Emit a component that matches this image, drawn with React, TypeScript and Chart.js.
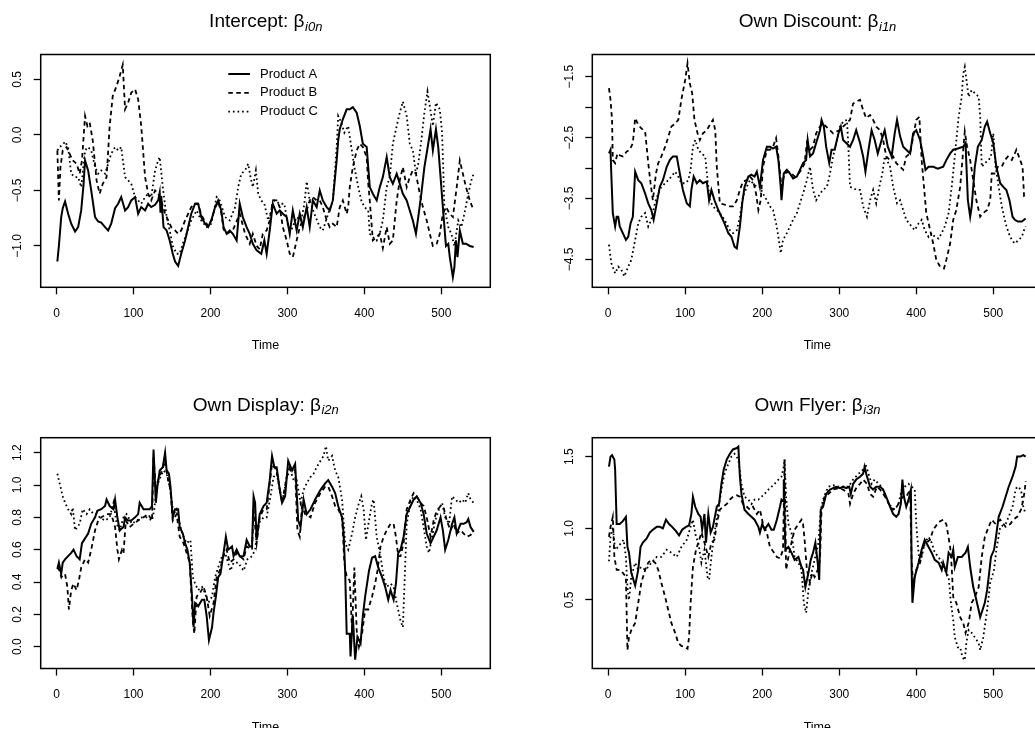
import React, { useEffect, useRef } from 'react';
import { Chart, registerables } from 'chart.js';

Chart.register(...registerables);

const FONT = '"Liberation Sans", Arial, Helvetica, sans-serif';

// ---- shared axis / legend values ----
const timeTicks = [0, 100, 200, 300, 400, 500];
const timeRange = [-20.64, 563.64];
const productNames = ['Product A', 'Product B', 'Product C'];

// ---- Intercept: beta_i0n ----
const interceptA: [number, number][] = [[1,-1.14],[3,-1.0],[6,-0.74],[8,-0.66],[11,-0.60],[15,-0.71],[19,-0.80],[24,-0.87],[28,-0.83],[32,-0.68],[35,-0.45],[37,-0.23],[41,-0.32],[45,-0.50],[50,-0.74],[54,-0.78],[58,-0.79],[63,-0.83],[67,-0.86],[71,-0.80],[76,-0.66],[80,-0.62],[84,-0.56],[89,-0.68],[93,-0.65],[97,-0.59],[102,-0.56],[106,-0.71],[110,-0.65],[115,-0.68],[119,-0.62],[123,-0.65],[128,-0.63],[132,-0.59],[134,-0.52],[135,-0.70],[136,-0.55],[139,-0.83],[143,-0.86],[147,-0.95],[151,-1.07],[154,-1.14],[158,-1.18],[162,-1.07],[167,-0.95],[171,-0.83],[175,-0.71],[180,-0.62],[184,-0.62],[188,-0.74],[193,-0.80],[197,-0.83],[201,-0.77],[206,-0.65],[210,-0.59],[214,-0.68],[217,-0.83],[221,-0.89],[225,-0.86],[229,-0.89],[234,-0.95],[238,-0.62],[242,-0.74],[247,-0.83],[251,-0.89],[255,-0.98],[260,-1.04],[266,-1.07],[270,-0.95],[273,-1.07],[277,-0.86],[281,-0.62],[286,-0.71],[290,-0.68],[294,-0.71],[299,-0.74],[303,-0.89],[307,-0.68],[312,-0.86],[316,-0.71],[320,-0.83],[325,-0.65],[329,-0.83],[333,-0.59],[338,-0.65],[342,-0.50],[346,-0.59],[351,-0.65],[355,-0.68],[359,-0.59],[364,-0.23],[366,-0.05],[368,0.05],[372,0.14],[377,0.23],[381,0.23],[385,0.25],[390,0.20],[394,0.08],[398,-0.08],[403,-0.11],[407,-0.47],[411,-0.53],[416,-0.59],[420,-0.47],[424,-0.38],[429,-0.20],[433,-0.38],[437,-0.44],[442,-0.35],[446,-0.44],[450,-0.53],[455,-0.59],[459,-0.68],[463,-0.77],[467,-0.89],[470,-0.74],[474,-0.53],[478,-0.29],[483,-0.08],[486,0.05],[489,-0.14],[493,0.05],[496,-0.11],[500,-0.47],[503,-0.74],[506,-1.0],[509,-0.98],[511,-1.10],[515,-1.28],[517,-1.19],[519,-0.95],[521,-1.10],[524,-0.86],[528,-0.98],[532,-0.98],[537,-1.0],[542,-1.01]];
const interceptB: [number, number][] = [[1,-0.14],[3,-0.59],[5,-0.29],[8,-0.14],[13,-0.11],[17,-0.17],[21,-0.23],[26,-0.26],[30,-0.35],[33,-0.23],[37,0.17],[40,0.08],[43,0.11],[47,-0.05],[52,-0.41],[56,-0.53],[60,-0.44],[65,-0.38],[69,0.08],[73,0.35],[78,0.44],[82,0.53],[86,0.63],[89,0.23],[93,0.29],[97,0.38],[102,0.41],[106,0.32],[110,0.08],[115,-0.38],[119,-0.53],[123,-0.59],[128,-0.50],[132,-0.53],[136,-0.59],[141,-0.71],[145,-0.77],[149,-0.83],[154,-0.86],[158,-0.89],[162,-0.86],[167,-0.77],[171,-0.71],[175,-0.65],[180,-0.62],[184,-0.62],[188,-0.72],[193,-0.78],[197,-0.82],[201,-0.77],[206,-0.66],[210,-0.60],[214,-0.70],[217,-0.85],[221,-0.89],[229,-0.86],[238,-0.71],[245,-0.89],[251,-0.98],[255,-0.89],[260,-1.0],[264,-1.03],[268,-0.89],[273,-0.86],[277,-0.77],[281,-0.59],[286,-0.59],[290,-0.65],[294,-0.83],[299,-0.95],[303,-1.07],[307,-1.10],[312,-0.95],[316,-0.83],[320,-0.77],[325,-0.68],[329,-0.59],[333,-0.56],[338,-0.59],[342,-0.59],[346,-0.65],[351,-0.77],[355,-0.83],[359,-0.80],[364,-0.83],[368,-0.65],[372,-0.59],[377,-0.71],[379,-0.65],[381,-0.47],[385,-0.29],[390,-0.14],[394,-0.08],[398,-0.11],[403,-0.20],[405,-0.44],[407,-0.59],[411,-0.95],[416,-0.92],[420,-0.89],[424,-1.02],[429,-0.83],[433,-0.98],[437,-0.95],[442,-0.59],[446,-0.41],[450,-0.29],[455,-0.47],[459,-0.38],[463,-0.32],[467,-0.35],[472,-0.53],[476,-0.65],[481,-0.77],[485,-0.89],[489,-1.0],[494,-0.98],[498,-0.89],[502,-0.71],[506,-0.65],[511,-0.71],[515,-0.74],[520,-0.47],[524,-0.23],[528,-0.35],[532,-0.47],[537,-0.59],[542,-0.68]];
const interceptC: [number, number][] = [[1,-0.14],[4,-0.11],[9,-0.08],[11,-0.06],[15,-0.11],[19,-0.35],[24,-0.38],[28,-0.38],[32,-0.47],[37,-0.14],[41,-0.11],[45,-0.14],[50,-0.29],[54,-0.35],[58,-0.32],[63,-0.35],[67,-0.26],[71,-0.17],[76,-0.11],[80,-0.14],[84,-0.11],[89,-0.38],[93,-0.41],[97,-0.44],[102,-0.56],[106,-0.59],[110,-0.62],[115,-0.56],[119,-0.53],[123,-0.56],[128,-0.32],[132,-0.23],[134,-0.20],[138,-0.47],[143,-0.74],[147,-0.86],[151,-1.0],[156,-1.07],[160,-1.07],[164,-0.98],[169,-0.89],[175,-0.77],[182,-0.68],[188,-0.77],[195,-0.83],[201,-0.80],[208,-0.56],[212,-0.59],[219,-0.74],[225,-0.77],[232,-0.65],[236,-0.47],[240,-0.35],[245,-0.32],[249,-0.26],[252,-0.38],[255,-0.47],[259,-0.32],[262,-0.53],[266,-0.59],[270,-0.62],[275,-0.77],[279,-0.68],[283,-0.59],[290,-0.62],[296,-0.62],[301,-0.83],[305,-0.86],[312,-0.74],[318,-0.77],[322,-0.62],[325,-0.42],[329,-0.59],[335,-0.71],[342,-0.83],[346,-0.86],[353,-0.71],[359,-0.59],[364,-0.11],[366,0.17],[370,0.11],[374,0.02],[379,0.08],[383,-0.11],[387,-0.29],[392,-0.47],[396,-0.59],[400,-0.65],[405,-0.68],[407,-0.89],[411,-0.92],[416,-0.95],[420,-0.89],[424,-0.77],[429,-0.47],[433,-0.38],[437,-0.08],[442,0.08],[446,0.20],[450,0.30],[455,0.17],[459,-0.08],[463,-0.14],[467,-0.35],[470,-0.26],[474,-0.05],[478,0.20],[482,0.39],[485,0.26],[489,0.08],[493,0.29],[498,0.23],[501,0.02],[504,-0.65],[509,-0.83],[513,-0.89],[517,-1.0],[522,-0.77],[526,-0.83],[530,-0.71],[535,-0.53],[539,-0.41],[542,-0.35]];

// ---- Own Discount: beta_i1n ----
const discountA: [number, number][] = [[1,-2.76],[3,-2.70],[4,-3.09],[6,-3.74],[9,-3.96],[11,-3.80],[13,-3.80],[15,-3.96],[19,-4.07],[23,-4.18],[26,-4.13],[29,-3.91],[32,-3.80],[35,-3.06],[39,-3.20],[43,-3.25],[48,-3.42],[52,-3.58],[56,-3.69],[59,-3.85],[63,-3.58],[67,-3.31],[71,-3.20],[76,-2.98],[80,-2.87],[84,-2.81],[89,-2.81],[93,-3.09],[97,-3.36],[102,-3.58],[106,-3.63],[108,-3.36],[111,-3.14],[115,-3.25],[119,-3.20],[123,-3.25],[128,-3.22],[131,-3.53],[134,-3.36],[138,-3.53],[143,-3.69],[147,-3.80],[151,-3.91],[156,-4.07],[160,-4.13],[164,-4.29],[167,-4.32],[171,-3.96],[174,-3.58],[177,-3.31],[182,-3.14],[186,-3.11],[190,-3.14],[193,-3.06],[197,-3.31],[201,-2.87],[206,-2.65],[210,-2.65],[214,-2.68],[218,-2.65],[221,-2.87],[224,-3.31],[225,-3.53],[228,-3.09],[232,-3.03],[236,-3.09],[240,-3.17],[245,-3.14],[249,-3.03],[253,-2.92],[257,-2.87],[259,-2.54],[262,-2.81],[266,-2.76],[270,-2.59],[275,-2.38],[277,-2.21],[280,-2.32],[283,-2.65],[287,-2.92],[290,-2.70],[294,-2.70],[299,-2.43],[302,-2.32],[305,-2.54],[309,-2.59],[314,-2.65],[318,-2.54],[322,-2.38],[327,-2.59],[331,-2.81],[334,-3.06],[338,-2.70],[342,-2.38],[346,-2.54],[350,-2.76],[355,-2.54],[359,-2.38],[363,-2.65],[368,-2.81],[372,-2.43],[375,-2.21],[379,-2.48],[383,-2.65],[387,-2.70],[392,-2.76],[396,-2.43],[400,-2.38],[405,-2.54],[409,-2.81],[412,-3.03],[416,-2.98],[422,-2.98],[428,-3.01],[435,-2.98],[439,-2.87],[444,-2.76],[448,-2.70],[454,-2.68],[461,-2.65],[464,-2.59],[465,-2.92],[467,-3.53],[470,-3.80],[472,-3.63],[476,-2.98],[480,-2.65],[485,-2.54],[489,-2.32],[492,-2.24],[496,-2.43],[500,-2.59],[504,-2.98],[509,-3.25],[513,-3.31],[517,-3.36],[521,-3.53],[525,-3.80],[528,-3.85],[532,-3.88],[537,-3.88],[540,-3.85],[542,-3.83]];
const discountB: [number, number][] = [[1,-1.69],[3,-1.88],[5,-2.21],[6,-2.87],[9,-2.92],[12,-2.76],[15,-2.79],[19,-2.81],[24,-2.73],[28,-2.70],[32,-2.59],[35,-2.18],[39,-2.29],[43,-2.35],[48,-2.40],[52,-2.92],[55,-3.25],[58,-3.53],[62,-3.09],[65,-2.92],[69,-2.81],[74,-2.65],[78,-2.49],[82,-2.32],[87,-2.27],[91,-2.21],[95,-1.88],[100,-1.55],[103,-1.28],[106,-1.61],[109,-1.77],[112,-2.21],[116,-2.43],[119,-2.54],[123,-2.43],[128,-2.38],[132,-2.29],[136,-2.21],[139,-2.38],[141,-2.98],[145,-3.58],[151,-3.60],[158,-3.63],[162,-3.63],[167,-3.53],[171,-3.36],[175,-3.22],[180,-3.20],[184,-3.14],[188,-3.20],[192,-3.42],[195,-3.69],[198,-3.53],[201,-2.98],[206,-2.70],[210,-2.70],[214,-2.65],[218,-2.51],[221,-2.81],[225,-3.31],[229,-3.09],[234,-3.06],[238,-3.09],[242,-3.14],[247,-3.09],[251,-3.03],[255,-2.92],[258,-2.59],[262,-2.70],[266,-2.65],[270,-2.43],[275,-2.32],[279,-2.27],[283,-2.32],[288,-2.38],[292,-2.43],[296,-2.40],[301,-2.38],[305,-2.32],[309,-2.27],[314,-2.21],[318,-1.94],[322,-1.91],[327,-1.88],[331,-2.05],[335,-2.18],[340,-2.13],[344,-2.21],[348,-2.32],[353,-2.38],[357,-2.54],[361,-2.81],[366,-2.87],[370,-2.81],[374,-2.92],[379,-2.98],[383,-3.03],[387,-2.81],[392,-2.76],[396,-2.49],[400,-2.21],[404,-2.16],[407,-2.87],[410,-3.31],[413,-3.74],[418,-4.02],[422,-4.24],[426,-4.51],[431,-4.62],[436,-4.65],[439,-4.51],[444,-4.24],[448,-3.85],[452,-3.69],[457,-3.31],[461,-2.70],[463,-2.40],[466,-2.65],[470,-2.87],[474,-3.20],[478,-3.53],[483,-3.80],[487,-3.74],[492,-3.69],[496,-3.53],[498,-3.09],[502,-3.09],[506,-2.98],[511,-2.98],[515,-2.87],[519,-2.81],[524,-2.87],[528,-2.76],[530,-2.70],[534,-2.84],[538,-2.98],[540,-3.47],[542,-3.50]];
const discountC: [number, number][] = [[1,-4.26],[4,-4.56],[9,-4.73],[13,-4.62],[17,-4.67],[21,-4.78],[26,-4.62],[30,-4.51],[35,-4.18],[39,-3.91],[43,-3.80],[48,-3.74],[52,-3.96],[56,-3.85],[61,-3.56],[65,-3.42],[69,-3.31],[74,-3.25],[78,-3.20],[82,-3.14],[87,-3.06],[91,-3.14],[95,-3.25],[100,-3.25],[104,-3.20],[107,-3.03],[110,-2.65],[113,-2.54],[117,-2.70],[121,-2.76],[126,-2.81],[129,-3.20],[132,-3.53],[136,-3.63],[141,-3.69],[145,-3.74],[151,-3.85],[158,-4.02],[162,-4.07],[167,-4.02],[171,-3.80],[175,-3.47],[180,-3.31],[184,-3.20],[188,-3.25],[193,-3.31],[197,-3.31],[201,-3.42],[206,-3.53],[210,-3.63],[214,-3.69],[218,-3.91],[221,-4.13],[224,-4.40],[227,-4.18],[232,-4.07],[236,-3.96],[240,-3.85],[245,-3.74],[249,-3.58],[253,-3.42],[258,-3.20],[262,-2.98],[266,-3.36],[270,-3.53],[275,-3.42],[279,-3.36],[284,-3.31],[288,-3.09],[292,-2.81],[297,-2.54],[301,-2.32],[305,-2.24],[310,-2.21],[312,-2.70],[314,-3.31],[318,-3.33],[323,-3.36],[327,-3.36],[331,-3.63],[336,-3.80],[340,-3.53],[344,-3.36],[348,-3.58],[352,-3.31],[356,-3.09],[359,-2.81],[362,-2.87],[366,-2.98],[370,-3.31],[375,-3.58],[379,-3.53],[383,-3.69],[387,-3.85],[394,-3.96],[398,-4.02],[403,-3.91],[407,-3.85],[411,-4.02],[416,-4.13],[420,-4.07],[424,-4.13],[429,-4.16],[433,-4.07],[437,-3.96],[442,-3.74],[446,-3.31],[450,-2.81],[455,-2.16],[459,-1.83],[461,-1.45],[463,-1.34],[468,-1.83],[472,-1.72],[476,-1.77],[481,-1.83],[483,-2.16],[485,-2.98],[489,-2.92],[494,-2.87],[497,-2.81],[500,-2.43],[503,-2.98],[507,-3.31],[511,-3.63],[516,-3.91],[520,-4.07],[524,-4.18],[528,-4.24],[533,-4.18],[537,-4.13],[540,-4.02],[542,-3.96]];

// ---- Own Display: beta_i2n ----
const displayA: [number, number][] = [[1,0.48],[3,0.52],[6,0.45],[8,0.52],[11,0.54],[15,0.56],[19,0.58],[22,0.60],[26,0.56],[30,0.54],[33,0.64],[37,0.67],[41,0.70],[45,0.76],[50,0.80],[53,0.84],[58,0.85],[63,0.87],[65,0.91],[69,0.87],[74,0.85],[76,0.91],[79,0.80],[82,0.72],[87,0.74],[89,0.80],[93,0.78],[97,0.78],[102,0.80],[106,0.82],[108,0.89],[113,0.85],[117,0.85],[121,0.85],[124,0.87],[126,1.22],[129,0.89],[131,0.99],[134,1.09],[138,1.11],[141,1.20],[143,1.09],[146,1.07],[148,0.99],[151,0.80],[154,0.85],[158,0.85],[160,0.74],[164,0.70],[167,0.64],[170,0.60],[173,0.52],[176,0.31],[178,0.12],[180,0.27],[184,0.25],[189,0.29],[192,0.29],[195,0.19],[198,0.04],[202,0.12],[204,0.21],[207,0.31],[210,0.43],[213,0.45],[217,0.58],[220,0.68],[223,0.60],[228,0.62],[230,0.56],[234,0.60],[238,0.56],[243,0.56],[247,0.66],[251,0.62],[254,0.62],[256,0.93],[258,0.89],[260,0.66],[264,0.82],[269,0.87],[273,0.89],[277,1.03],[280,1.18],[283,1.11],[286,1.11],[290,0.97],[293,0.89],[297,0.93],[301,1.15],[306,1.09],[310,1.13],[314,0.78],[317,0.74],[321,0.91],[325,0.82],[330,0.85],[336,0.91],[343,0.97],[349,1.01],[353,1.03],[358,0.99],[362,0.95],[366,0.87],[371,0.80],[373,0.70],[375,0.47],[377,0.08],[381,0.08],[382,-0.06],[385,0.19],[388,-0.08],[391,0.06],[395,0.02],[398,0.19],[401,0.31],[406,0.47],[410,0.55],[414,0.56],[418,0.49],[423,0.43],[427,0.37],[431,0.29],[434,0.35],[438,0.29],[441,0.39],[444,0.58],[447,0.60],[451,0.68],[455,0.82],[460,0.87],[464,0.91],[468,0.93],[473,0.89],[477,0.82],[481,0.70],[486,0.64],[490,0.68],[494,0.72],[499,0.80],[502,0.72],[505,0.60],[509,0.66],[514,0.76],[517,0.80],[520,0.70],[525,0.76],[529,0.76],[533,0.77],[535,0.79],[538,0.74],[542,0.71]];
const displayB: [number, number][] = [[1,0.49],[4,0.47],[6,0.43],[11,0.45],[14,0.37],[16,0.23],[19,0.35],[22,0.39],[26,0.35],[29,0.41],[32,0.49],[37,0.54],[41,0.52],[45,0.60],[50,0.72],[54,0.78],[58,0.80],[65,0.82],[71,0.82],[76,0.74],[79,0.60],[81,0.54],[85,0.60],[87,0.58],[90,0.78],[95,0.74],[100,0.76],[106,0.78],[113,0.80],[119,0.82],[124,0.78],[126,1.18],[129,0.97],[132,1.03],[137,1.09],[141,1.15],[144,1.05],[148,0.97],[151,0.78],[156,0.82],[160,0.68],[165,0.64],[169,0.58],[173,0.52],[177,0.16],[179,0.08],[182,0.31],[186,0.33],[191,0.37],[195,0.31],[199,0.19],[204,0.27],[208,0.43],[212,0.47],[217,0.56],[221,0.60],[225,0.52],[230,0.54],[234,0.58],[238,0.56],[243,0.54],[247,0.62],[254,0.60],[256,0.85],[260,0.64],[264,0.80],[269,0.85],[273,0.85],[280,1.13],[286,1.09],[293,0.89],[299,1.05],[303,1.11],[310,1.09],[313,0.72],[316,0.68],[319,0.87],[323,0.82],[330,0.80],[336,0.89],[343,0.95],[349,0.99],[353,0.99],[358,0.93],[362,0.87],[366,0.85],[371,0.80],[374,0.52],[377,0.43],[381,0.41],[384,0.10],[387,0.49],[390,0.10],[393,0.0],[397,0.08],[401,0.23],[405,0.23],[410,0.31],[414,0.39],[417,0.47],[421,0.62],[425,0.68],[429,0.72],[434,0.76],[438,0.76],[441,0.68],[444,0.56],[447,0.56],[451,0.64],[455,0.85],[460,0.91],[464,0.95],[468,0.93],[473,0.89],[477,0.87],[481,0.80],[486,0.68],[490,0.78],[494,0.84],[499,0.87],[503,0.86],[507,0.78],[512,0.72],[516,0.76],[520,0.70],[525,0.72],[529,0.70],[533,0.68],[538,0.69],[542,0.72]];
const displayC: [number, number][] = [[1,1.07],[4,1.01],[8,0.93],[11,0.89],[15,0.85],[19,0.82],[21,0.86],[24,0.72],[27,0.74],[30,0.76],[34,0.85],[39,0.82],[43,0.85],[48,0.82],[52,0.82],[56,0.80],[63,0.78],[69,0.80],[74,0.89],[78,0.76],[82,0.72],[87,0.80],[91,0.82],[98,0.76],[104,0.78],[111,0.80],[117,0.80],[124,0.78],[127,0.85],[130,0.99],[135,1.05],[139,1.09],[143,1.07],[147,0.99],[152,0.82],[156,0.85],[161,0.74],[165,0.68],[169,0.64],[174,0.66],[177,0.43],[180,0.39],[184,0.35],[189,0.37],[193,0.33],[197,0.27],[202,0.31],[206,0.43],[210,0.49],[215,0.56],[219,0.58],[226,0.47],[230,0.52],[236,0.52],[243,0.47],[248,0.54],[254,0.56],[258,0.60],[262,0.76],[269,0.80],[273,0.80],[278,0.93],[282,1.05],[286,1.07],[291,0.95],[295,0.93],[299,1.05],[304,1.09],[308,1.03],[312,1.03],[317,0.89],[321,0.97],[325,1.01],[330,1.05],[334,1.07],[338,1.11],[343,1.15],[347,1.18],[350,1.24],[353,1.15],[358,1.18],[362,1.09],[366,1.05],[371,0.91],[375,0.64],[379,0.60],[384,0.70],[388,0.80],[393,0.89],[396,0.93],[399,0.85],[402,0.66],[406,0.78],[410,0.89],[412,0.91],[416,0.68],[421,0.56],[425,0.43],[429,0.37],[434,0.39],[438,0.37],[442,0.27],[447,0.16],[450,0.12],[452,0.37],[455,0.76],[460,0.89],[464,0.93],[468,0.91],[473,0.85],[477,0.74],[481,0.62],[484,0.58],[488,0.68],[492,0.78],[497,0.85],[501,0.89],[505,0.80],[510,0.76],[514,0.93],[518,0.91],[523,0.89],[527,0.91],[531,0.89],[535,0.95],[538,0.91],[542,0.89]];

// ---- Own Flyer: beta_i3n ----
const flyerA: [number, number][] = [[1,1.43],[3,1.50],[5,1.51],[8,1.48],[9,1.41],[11,1.03],[15,1.03],[19,1.05],[23,1.08],[25,0.87],[27,0.83],[30,0.69],[35,0.60],[39,0.71],[42,0.87],[45,0.90],[50,0.93],[54,0.97],[58,0.99],[63,1.01],[67,1.01],[71,1.00],[75,1.06],[79,1.03],[83,1.01],[88,0.98],[92,0.95],[96,0.99],[101,1.01],[105,1.02],[108,1.10],[110,1.22],[113,1.15],[117,1.10],[120,1.08],[122,0.99],[125,1.10],[127,0.90],[130,1.10],[133,0.97],[136,1.01],[141,1.15],[144,1.17],[147,1.31],[150,1.41],[154,1.48],[158,1.52],[162,1.55],[167,1.56],[169,1.57],[171,1.36],[173,1.24],[177,1.13],[182,1.10],[186,1.08],[190,1.06],[195,1.01],[197,0.97],[200,1.03],[203,0.99],[208,1.03],[212,0.99],[215,0.99],[219,1.06],[223,1.15],[225,1.20],[227,1.19],[228,1.34],[230,0.85],[234,0.87],[238,0.83],[242,0.78],[247,0.80],[251,0.73],[253,0.71],[256,0.59],[260,0.69],[263,0.78],[266,0.83],[269,0.90],[272,0.76],[274,0.64],[276,1.13],[279,1.15],[283,1.24],[288,1.27],[292,1.28],[296,1.29],[301,1.28],[305,1.29],[309,1.28],[313,1.29],[315,1.24],[318,1.31],[322,1.34],[327,1.36],[331,1.38],[333,1.43],[335,1.38],[340,1.29],[344,1.27],[348,1.29],[353,1.29],[357,1.27],[361,1.22],[366,1.15],[370,1.10],[374,1.08],[377,1.10],[380,1.17],[382,1.34],[384,1.22],[387,1.15],[390,1.20],[393,1.27],[394,0.71],[395,0.48],[398,0.66],[403,0.76],[407,0.85],[411,0.92],[416,0.87],[420,0.83],[424,0.78],[429,0.76],[433,0.71],[435,0.76],[439,0.69],[442,0.83],[446,0.80],[448,0.85],[450,0.73],[454,0.80],[459,0.80],[464,0.83],[467,0.87],[470,0.73],[474,0.59],[478,0.50],[481,0.43],[483,0.38],[486,0.43],[489,0.48],[492,0.57],[494,0.66],[497,0.80],[501,0.85],[503,0.92],[507,1.08],[512,1.15],[516,1.22],[520,1.29],[525,1.36],[529,1.43],[531,1.50],[535,1.50],[539,1.51],[542,1.50]];
const flyerB: [number, number][] = [[1,0.94],[3,1.01],[6,1.08],[8,0.80],[11,0.71],[15,0.71],[19,0.69],[23,0.66],[25,0.15],[27,0.24],[30,0.29],[35,0.34],[39,0.48],[43,0.62],[48,0.71],[52,0.76],[56,0.78],[61,0.76],[65,0.71],[69,0.62],[74,0.52],[78,0.43],[82,0.34],[87,0.27],[91,0.20],[95,0.18],[100,0.17],[103,0.16],[105,0.24],[107,0.48],[110,0.73],[114,0.85],[117,0.90],[121,0.97],[125,0.90],[130,0.80],[134,0.90],[138,0.92],[141,1.03],[145,1.13],[149,1.15],[154,1.17],[158,1.20],[162,1.22],[167,1.23],[171,1.22],[175,1.17],[180,1.15],[184,1.13],[188,1.15],[193,1.10],[197,1.13],[201,1.03],[206,0.97],[210,0.87],[214,0.84],[219,0.80],[223,0.79],[227,0.85],[229,1.48],[231,0.71],[234,0.80],[238,0.90],[242,0.99],[247,1.03],[251,1.06],[253,1.03],[255,0.92],[258,0.71],[262,0.62],[265,0.69],[268,0.66],[272,0.71],[275,0.78],[277,1.13],[281,1.22],[286,1.24],[292,1.27],[299,1.28],[305,1.27],[312,1.24],[314,1.17],[318,1.24],[323,1.29],[327,1.31],[331,1.34],[336,1.31],[340,1.24],[344,1.22],[349,1.29],[353,1.27],[357,1.24],[362,1.20],[366,1.15],[370,1.13],[375,1.15],[379,1.20],[383,1.22],[387,1.22],[392,1.27],[394,0.76],[396,0.62],[400,0.71],[405,0.76],[409,0.87],[413,0.90],[418,0.92],[422,0.99],[426,1.02],[431,1.05],[435,1.06],[439,1.03],[444,0.87],[446,0.73],[448,0.52],[452,0.48],[457,0.38],[461,0.34],[464,0.27],[468,0.34],[472,0.48],[476,0.52],[481,0.59],[485,0.80],[489,0.94],[494,1.01],[498,1.06],[503,1.03],[509,1.06],[516,1.01],[522,1.03],[526,1.06],[531,1.08],[536,1.13],[539,1.20],[541,1.27],[542,1.33]];
const flyerC: [number, number][] = [[1,0.77],[3,0.94],[6,1.01],[9,0.85],[13,0.87],[17,0.90],[20,0.92],[23,0.80],[25,0.59],[27,0.50],[30,0.66],[35,0.76],[39,0.71],[43,0.73],[48,0.71],[52,0.73],[56,0.76],[63,0.80],[69,0.80],[76,0.85],[82,0.83],[89,0.80],[95,0.87],[102,0.92],[107,1.01],[110,1.06],[114,0.94],[117,0.90],[121,0.76],[125,0.85],[129,0.66],[131,0.64],[134,0.80],[138,0.97],[143,1.13],[147,1.27],[151,1.38],[156,1.45],[160,1.50],[164,1.52],[169,1.48],[173,1.31],[177,1.22],[182,1.20],[186,1.17],[190,1.20],[195,1.20],[199,1.22],[203,1.24],[208,1.27],[212,1.29],[216,1.31],[221,1.34],[225,1.36],[228,1.43],[229,1.48],[231,1.22],[234,1.03],[238,0.97],[242,0.80],[247,0.76],[251,0.71],[254,0.48],[257,0.41],[260,0.57],[264,0.69],[268,0.78],[273,0.90],[276,1.13],[280,1.22],[286,1.29],[292,1.30],[299,1.29],[305,1.29],[312,1.29],[318,1.34],[325,1.38],[331,1.41],[334,1.45],[338,1.38],[342,1.31],[346,1.34],[351,1.31],[355,1.29],[359,1.24],[364,1.17],[368,1.15],[372,1.13],[377,1.17],[381,1.27],[385,1.29],[390,1.31],[394,1.29],[398,1.27],[400,1.03],[404,0.76],[407,0.80],[411,0.90],[416,0.94],[420,0.90],[424,0.83],[429,0.80],[433,0.76],[437,0.71],[442,0.66],[445,0.48],[448,0.36],[450,0.24],[454,0.17],[457,0.17],[460,0.10],[463,0.08],[465,0.20],[468,0.29],[472,0.27],[476,0.24],[481,0.20],[483,0.15],[487,0.24],[492,0.43],[496,0.62],[501,0.71],[504,0.85],[509,1.01],[516,1.03],[520,1.08],[525,1.15],[529,1.27],[531,1.29],[536,1.27],[539,1.15],[542,1.10]];

// ---- y-axis ticks and their printed labels ----
const interceptTicks = [-1, -0.5, 0, 0.5];
const interceptTickLabels = ['\u22121.0', '\u22120.5', '0.0', '0.5'];
const discountTicks = [-4.5, -4, -3.5, -3, -2.5, -2, -1.5];
const discountTickLabels = ['\u22124.5', '', '\u22123.5', '', '\u22122.5', '', '\u22121.5'];
const displayTicks = [0, 0.2, 0.4, 0.6, 0.8, 1.0, 1.2];
const displayTickLabels = ['0.0', '0.2', '0.4', '0.6', '0.8', '1.0', '1.2'];
const flyerTicks = [0.5, 1.0, 1.5];
const flyerTickLabels = ['0.5', '1.0', '1.5'];

// ---- panel layout (page pixels) ----
type Box = { left: number; right: number; top: number; bottom: number };
type Panel = {
  title: string;
  sub: string;
  series: [number, number][][];
  yRange: [number, number];
  yTicks: number[];
  yLabels: string[];
  canvas: { left: number; top: number; width: number; height: number };
  box: Box;
  timeCenter: number;
  legend: boolean;
};

const panels: Panel[] = [
  {
    title: 'Intercept: \u03b2', sub: 'i0n',
    series: [interceptA, interceptB, interceptC],
    yRange: [-1.372, 0.7235], yTicks: interceptTicks, yLabels: interceptTickLabels,
    canvas: { left: 0, top: 0, width: 517, height: 368 },
    box: { left: 40.7, right: 490.3, top: 54.5, bottom: 287.3 },
    timeCenter: 345.3, legend: true,
  },
  {
    title: 'Own Discount: \u03b2', sub: 'i1n',
    series: [discountA, discountB, discountC],
    yRange: [-4.959, -1.136], yTicks: discountTicks, yLabels: discountTickLabels,
    canvas: { left: 520, top: 0, width: 545, height: 368 },
    box: { left: 592.3, right: 1042.3, top: 54.5, bottom: 287.3 },
    timeCenter: 345.3, legend: false,
  },
  {
    title: 'Own Display: \u03b2', sub: 'i2n',
    series: [displayA, displayB, displayC],
    yRange: [-0.135, 1.2926], yTicks: displayTicks, yLabels: displayTickLabels,
    canvas: { left: 0, top: 368, width: 517, height: 368 },
    box: { left: 40.7, right: 490.3, top: 437.7, bottom: 668.5 },
    timeCenter: 727.4, legend: false,
  },
  {
    title: 'Own Flyer: \u03b2', sub: 'i3n',
    series: [flyerA, flyerB, flyerC],
    yRange: [0.022, 1.632], yTicks: flyerTicks, yLabels: flyerTickLabels,
    canvas: { left: 520, top: 368, width: 545, height: 368 },
    box: { left: 592.3, right: 1042.3, top: 437.7, bottom: 668.5 },
    timeCenter: 727.4, legend: false,
  },
];

const lineDashes: number[][] = [[], [4.5, 3.5], [1.7, 2.9]];
const lineWidths = [2, 1.8, 1.8];
const TICK_SIZE = 12;
const TICK_LEN = 7;
const AXIS_TITLE_SIZE = 12.5;

function widestLabel(labels: string[], size: number): number {
  const ctx = document.createElement('canvas').getContext('2d');
  if (!ctx) return 0;
  ctx.font = `${size}px ${FONT}`;
  return Math.max(...labels.map((l) => ctx.measureText(l).width));
}

// plot frame on all four sides
const framePlugin = {
  id: 'frame',
  afterDraw(chart: any) {
    const { ctx, chartArea: a } = chart;
    ctx.save();
    ctx.strokeStyle = '#000';
    ctx.lineWidth = 1.5;
    ctx.strokeRect(a.left, a.top, a.right - a.left, a.bottom - a.top);
    ctx.restore();
  },
};

// main title with italic subscript, centred over the plot region
const panelTitlePlugin = {
  id: 'panelTitle',
  afterDraw(chart: any, _args: any, opts: any) {
    const { ctx, chartArea: a } = chart;
    const cx = (a.left + a.right) / 2;
    const y = a.top - 27.2;
    const main = `19px ${FONT}`;
    const small = `italic 13px ${FONT}`;
    ctx.save();
    ctx.fillStyle = '#000';
    ctx.textAlign = 'left';
    ctx.textBaseline = 'alphabetic';
    ctx.font = main;
    const w1 = ctx.measureText(opts.text).width;
    ctx.font = small;
    const w2 = ctx.measureText(opts.sub).width;
    const x0 = cx - (w1 + w2) / 2;
    ctx.font = main;
    ctx.fillText(opts.text, x0, y);
    ctx.font = small;
    ctx.fillText(opts.sub, x0 + w1 + 0.5, y + 3.7);
    ctx.restore();
  },
};

// borderless legend at the top centre of the plot region
const insetLegendPlugin = {
  id: 'insetLegend',
  afterDraw(chart: any) {
    const { ctx, chartArea: a } = chart;
    const cx = (a.left + a.right) / 2;
    ctx.save();
    ctx.font = `13px ${FONT}`;
    ctx.textBaseline = 'middle';
    ctx.textAlign = 'left';
    ctx.fillStyle = '#000';
    ctx.strokeStyle = '#000';
    chart.data.datasets.forEach((ds: any, i: number) => {
      const y = a.top + 19.5 + i * 18.8;
      ctx.beginPath();
      ctx.setLineDash(ds.borderDash || []);
      ctx.lineWidth = ds.borderWidth;
      ctx.moveTo(cx - 37.2, y);
      ctx.lineTo(cx - 15.5, y);
      ctx.stroke();
      ctx.setLineDash([]);
      ctx.fillText(ds.label, cx - 5.5, y);
    });
    ctx.restore();
  },
};

function PanelChart({ panel }: { panel: Panel }) {
  const ref = useRef<HTMLCanvasElement | null>(null);

  useEffect(() => {
    if (!ref.current) return;
    const { canvas: c, box } = panel;
    const padTop = box.top - c.top;
    const padRight = c.left + c.width - box.right;
    const yAxisWidth = box.left - c.left;
    const xAxisHeight = c.top + c.height - box.bottom;
    const titleLineHeight = AXIS_TITLE_SIZE * 1.2;
    const timePadBottom = c.top + c.height - panel.timeCenter - titleLineHeight / 2;
    const yLabelPad = 23 - TICK_LEN - widestLabel(panel.yLabels, TICK_SIZE) / 2;

    const grid = {
      drawOnChartArea: false,
      drawTicks: true,
      tickLength: TICK_LEN,
      tickColor: '#000',
      tickWidth: 1.3,
      color: '#000',
    };

    const chart = new Chart(ref.current, {
      type: 'line',
      data: {
        datasets: panel.series.map((s, i) => ({
          label: productNames[i],
          data: s.map(([t, v]) => ({ x: t, y: v })),
          borderColor: '#000',
          backgroundColor: '#000',
          borderWidth: lineWidths[i],
          borderDash: lineDashes[i],
          pointRadius: 0,
          tension: 0,
          fill: false,
        })),
      },
      options: {
        responsive: false,
        animation: false,
        events: [],
        layout: { padding: { top: padTop, right: padRight, left: 0, bottom: 0 } },
        plugins: {
          legend: { display: false },
          tooltip: { enabled: false },
          title: { display: false },
          panelTitle: { text: panel.title, sub: panel.sub },
        } as any,
        scales: {
          x: {
            type: 'linear',
            min: timeRange[0],
            max: timeRange[1],
            afterBuildTicks: (s: any) => {
              s.ticks = timeTicks.map((v) => ({ value: v }));
            },
            afterFit: (s: any) => {
              s.height = xAxisHeight;
            },
            grid,
            border: { display: false },
            ticks: {
              color: '#000',
              font: { family: FONT, size: TICK_SIZE },
              padding: 11.8,
              maxRotation: 0,
              autoSkip: false,
              callback: (v: any) => String(v),
            },
            title: {
              display: true,
              text: 'Time',
              color: '#000',
              font: { family: FONT, size: AXIS_TITLE_SIZE },
              padding: { top: 0, bottom: timePadBottom },
            },
          },
          y: {
            type: 'linear',
            min: panel.yRange[0],
            max: panel.yRange[1],
            afterBuildTicks: (s: any) => {
              s.ticks = panel.yTicks.map((v) => ({ value: v }));
            },
            afterFit: (s: any) => {
              s.width = yAxisWidth;
            },
            grid,
            border: { display: false },
            ticks: {
              color: '#000',
              font: { family: FONT, size: TICK_SIZE },
              padding: yLabelPad,
              minRotation: 90,
              maxRotation: 90,
              crossAlign: 'center',
              autoSkip: false,
              callback: (_v: any, i: number) => panel.yLabels[i],
            },
          },
        },
      } as any,
      plugins: [framePlugin, panelTitlePlugin, ...(panel.legend ? [insetLegendPlugin] : [])],
    });

    return () => chart.destroy();
  }, [panel]);

  const { canvas: c } = panel;
  return (
    <canvas
      ref={ref}
      width={c.width}
      height={c.height}
      style={{ position: 'absolute', left: c.left, top: c.top, width: c.width, height: c.height }}
    />
  );
}

export default function App() {
  return (
    <div
      style={{
        position: 'fixed',
        left: 0,
        top: 0,
        width: 1035,
        height: 728,
        overflow: 'hidden',
        background: '#fff',
      }}
    >
      {panels.map((p) => (
        <PanelChart key={p.sub} panel={p} />
      ))}
    </div>
  );
}
